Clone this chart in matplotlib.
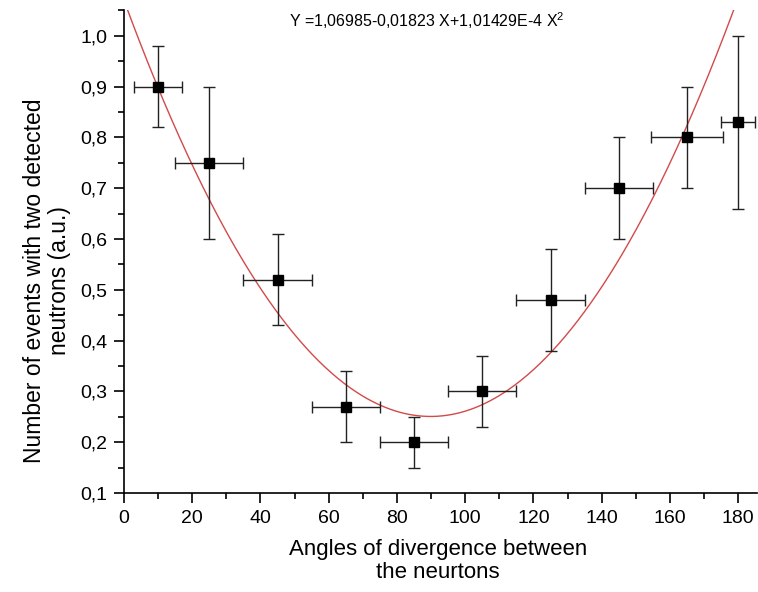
import numpy as np
import matplotlib
matplotlib.use('Agg')
import matplotlib.pyplot as plt
from matplotlib.ticker import MultipleLocator, FuncFormatter

plt.rcParams['font.family'] = ['Liberation Sans', 'DejaVu Sans']
plt.rcParams['mathtext.fontset'] = 'custom'
plt.rcParams['mathtext.rm'] = 'Liberation Sans'
plt.rcParams['mathtext.it'] = 'Liberation Sans'

# Точки вимірювань
angles = [10, 25, 45, 65, 85, 105, 125, 145, 165, 180]
events = [0.90, 0.75, 0.52, 0.27, 0.20, 0.30, 0.48, 0.70, 0.80, 0.83]
err_y = [0.08, 0.15, 0.09, 0.07, 0.05, 0.07, 0.10, 0.10, 0.10, 0.17]
err_x = [7, 10, 10, 10, 10, 10, 10, 10, 10.5, 5]

# Коефіцієнти підгонки Y = a + b X + c X^2
fit_coef = [1.01429e-4, -0.01823, 1.06985]

fig = plt.figure(figsize=(7.58, 5.92), dpi=100)
ax = fig.add_axes([0.1636, 0.1672, 0.835, 0.816])

xf = np.linspace(0, 185, 400)
ax.plot(xf, np.polyval(fit_coef, xf), color='#d24a4a', linewidth=1.0, zorder=2)

ax.errorbar(angles, events, xerr=err_x, yerr=err_y, fmt='s', color='black',
            markersize=7, ecolor='#222222', elinewidth=1.0, capsize=4,
            capthick=1.0, zorder=3)

ax.set_xlim(0, 185.5)
ax.set_ylim(0.1, 1.051)

ax.spines['top'].set_visible(False)
ax.spines['right'].set_visible(False)
ax.spines['left'].set_linewidth(1.2)
ax.spines['bottom'].set_linewidth(1.2)

ax.xaxis.set_major_locator(MultipleLocator(20))
ax.xaxis.set_minor_locator(MultipleLocator(10))
ax.yaxis.set_major_locator(MultipleLocator(0.1))
ax.yaxis.set_minor_locator(MultipleLocator(0.05))
ax.yaxis.set_major_formatter(FuncFormatter(lambda v, p: ('%.1f' % v).replace('.', ',')))
ax.tick_params(which='major', direction='out', length=7, width=1.2, labelsize=14, pad=5)
ax.tick_params(which='minor', direction='out', length=4, width=1.2)

ax.set_xlabel('Angles of divergence between\nthe neurtons', fontsize=16, linespacing=1.15)
ax.set_ylabel('Number of events with two detected\nneutrons (a.u.)', fontsize=16.5,
              linespacing=1.15)
ax.xaxis.set_label_coords(0.496, -0.095)
ax.yaxis.set_label_coords(-0.083, 0.44)

ax.text(48.5, 1.03, 'Y =1,06985-0,01823 X+1,01429E-4 X$^2$', fontsize=11.5, va='center')

fig.savefig('out.png', dpi=100)
